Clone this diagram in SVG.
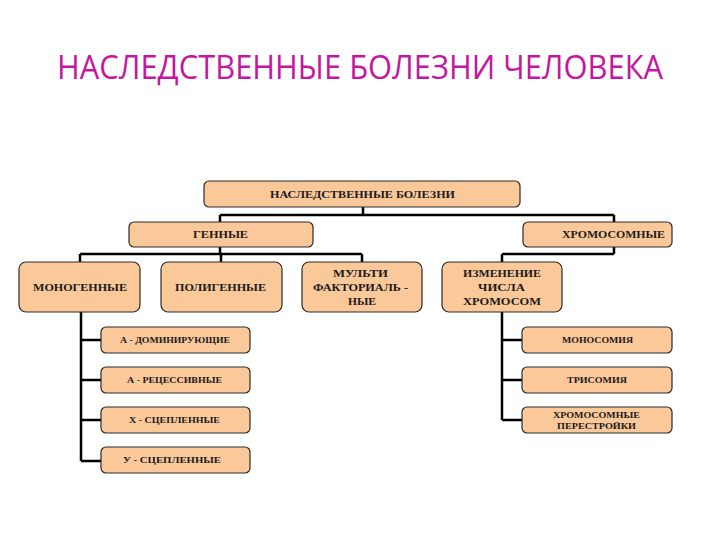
<svg xmlns="http://www.w3.org/2000/svg" width="720" height="540" viewBox="0 0 720 540">
<style>
.box{fill:#FBC89A;stroke:#2b2b2b;stroke-width:1.2}
.t{font-family:"Liberation Serif","Times New Roman",serif;font-weight:bold;fill:#1a1a1a;text-anchor:middle}
.m{font-size:11px}
.s{font-size:8.5px}
.conn{fill:none;stroke:#000;stroke-width:2.5}
.title{font-family:"Open Sans","Noto Sans",sans-serif;font-size:32px;fill:#C4179E;text-anchor:middle}
</style>
<rect width="720" height="540" fill="#fff"/>
<text class="title" x="360" y="79" textLength="606" lengthAdjust="spacingAndGlyphs">НАСЛЕДСТВЕННЫЕ БОЛЕЗНИ ЧЕЛОВЕКА</text>
<g id="connectors" class="conn">
<path d="M363,207 V215 M220,215 H614 M220,215 V222 M614,215 V222"/>
<path d="M220,247 V254 M80,254 H362 M80,254 V262 M221,254 V262 M362,254 V262"/>
<path d="M614,247 V254 M502,254 H614 M502,254 V262"/>
<path d="M81,312 V461 M81,340 H101 M81,380 H101 M81,420 H101 M81,461 H101"/>
<path d="M502,312 V420 M502,340 H522 M502,380 H522 M502,420 H522"/>
</g>
<g id="n-root"><rect class="box" x="204" y="181" width="316" height="26" rx="5"/><text class="t m" x="362.5" y="198" textLength="185" lengthAdjust="spacingAndGlyphs">НАСЛЕДСТВЕННЫЕ БОЛЕЗНИ</text></g>
<g id="n-gen"><rect class="box" x="129" y="222" width="184" height="25" rx="5"/><text class="t m" x="220.5" y="238" textLength="55" lengthAdjust="spacingAndGlyphs">ГЕННЫЕ</text></g>
<g id="n-chrom"><rect class="box" x="523" y="222" width="149" height="25" rx="5"/><text class="t m" x="613.5" y="238" textLength="103" lengthAdjust="spacingAndGlyphs">ХРОМОСОМНЫЕ</text></g>
<g id="n-mono"><rect class="box" x="19" y="262" width="121" height="50" rx="7"/><text class="t m" x="80" y="291" textLength="94" lengthAdjust="spacingAndGlyphs">МОНОГЕННЫЕ</text></g>
<g id="n-poly"><rect class="box" x="161" y="262" width="121" height="50" rx="7"/><text class="t m" x="220.5" y="291" textLength="91" lengthAdjust="spacingAndGlyphs">ПОЛИГЕННЫЕ</text></g>
<g id="n-multi"><rect class="box" x="302" y="262" width="120" height="50" rx="7"/>
<text class="t m" x="360.5" y="277" textLength="55" lengthAdjust="spacingAndGlyphs">МУЛЬТИ</text>
<text class="t m" x="360.5" y="291" textLength="95" lengthAdjust="spacingAndGlyphs">ФАКТОРИАЛЬ -</text>
<text class="t m" x="362" y="305" textLength="28" lengthAdjust="spacingAndGlyphs">НЫЕ</text></g>
<g id="n-change"><rect class="box" x="442" y="262" width="120" height="50" rx="7"/>
<text class="t m" x="502" y="277" textLength="78" lengthAdjust="spacingAndGlyphs">ИЗМЕНЕНИЕ</text>
<text class="t m" x="501.5" y="291" textLength="47" lengthAdjust="spacingAndGlyphs">ЧИСЛА</text>
<text class="t m" x="502" y="305" textLength="78" lengthAdjust="spacingAndGlyphs">ХРОМОСОМ</text></g>
<g id="n-adom"><rect class="box" x="101" y="327" width="149" height="26" rx="5"/><text class="t s" x="175" y="343" textLength="110" lengthAdjust="spacingAndGlyphs">А - ДОМИНИРУЮЩИЕ</text></g>
<g id="n-arec"><rect class="box" x="101" y="367" width="149" height="26" rx="5"/><text class="t s" x="174.5" y="383" textLength="95" lengthAdjust="spacingAndGlyphs">А - РЕЦЕССИВНЫЕ</text></g>
<g id="n-x"><rect class="box" x="101" y="407" width="149" height="26" rx="5"/><text class="t s" x="174.5" y="423" textLength="91" lengthAdjust="spacingAndGlyphs">Х - СЦЕПЛЕННЫЕ</text></g>
<g id="n-y"><rect class="box" x="101" y="447" width="149" height="26" rx="5"/><text class="t s" x="172" y="463" textLength="98" lengthAdjust="spacingAndGlyphs">У - СЦЕПЛЕННЫЕ</text></g>
<g id="n-monos"><rect class="box" x="522" y="327" width="150" height="26" rx="5"/><text class="t s" x="597.5" y="343" textLength="71" lengthAdjust="spacingAndGlyphs">МОНОСОМИЯ</text></g>
<g id="n-tris"><rect class="box" x="522" y="367" width="150" height="26" rx="5"/><text class="t s" x="597" y="383" textLength="60" lengthAdjust="spacingAndGlyphs">ТРИСОМИЯ</text></g>
<g id="n-rearr"><rect class="box" x="522" y="407" width="150" height="26" rx="5"/>
<text class="t s" x="596.5" y="417.5" textLength="87" lengthAdjust="spacingAndGlyphs">ХРОМОСОМНЫЕ</text>
<text class="t s" x="596.5" y="429" textLength="79" lengthAdjust="spacingAndGlyphs">ПЕРЕСТРОЙКИ</text></g>
</svg>
